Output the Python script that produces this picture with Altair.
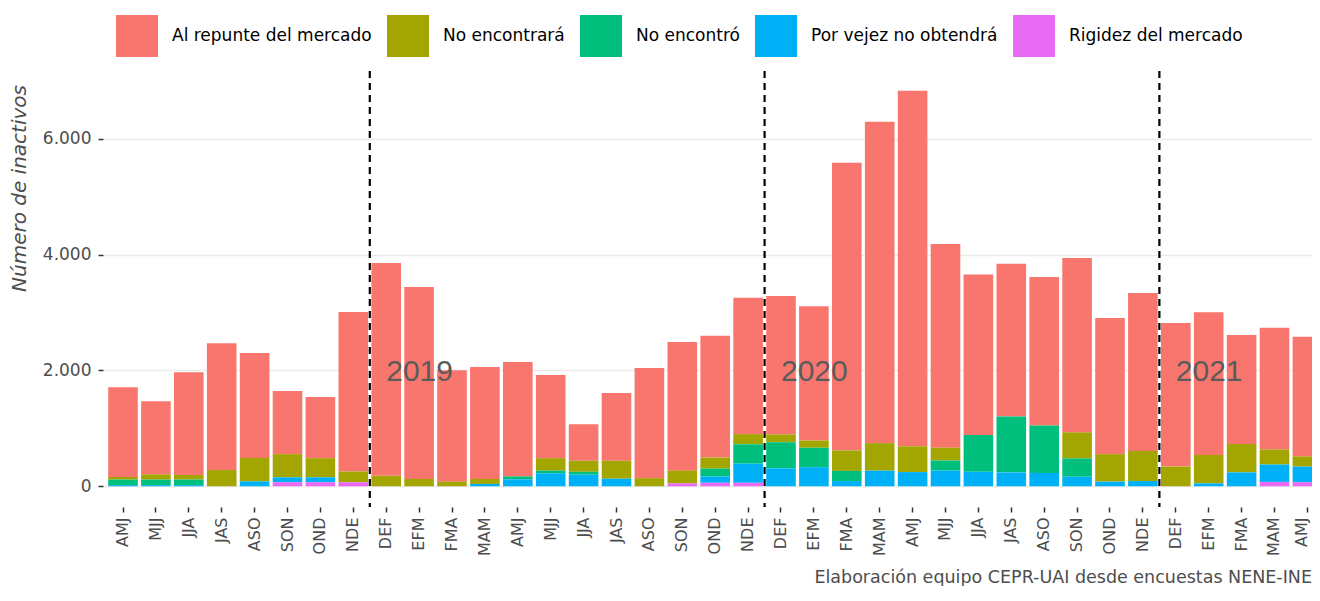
import altair as alt
import pandas as pd

# ---- data ----
periods = ["AMJ", "MJJ", "JJA", "JAS", "ASO", "SON", "OND", "NDE",
           "DEF", "EFM", "FMA", "MAM", "AMJ", "MJJ", "JJA", "JAS", "ASO", "SON", "OND", "NDE",
           "DEF", "EFM", "FMA", "MAM", "AMJ", "MJJ", "JJA", "JAS", "ASO", "SON", "OND", "NDE",
           "DEF", "EFM", "FMA", "MAM", "AMJ"]
years = [2018] * 8 + [2019] * 12 + [2020] * 12 + [2021] * 5

series_names = ["Al repunte del mercado", "No encontrará", "No encontró",
                "Por vejez no obtendrá", "Rigidez del mercado"]
series_colors = ["#F8766D", "#A3A500", "#00BF7D", "#00B0F6", "#E76BF3"]

repunte = [1550, 1265, 1775, 2190, 1810, 1090, 1055, 2755,
           3675, 3315, 1925, 1935, 1975, 1435, 630, 1170, 1900, 2220, 2105, 2355,
           2390, 2320, 4965, 5550, 6140, 3520, 2770, 2635, 2565, 3010, 2350, 2725,
           2480, 2465, 1880, 2100, 2065]
no_encontrara = [45, 90, 80, 280, 405, 400, 330, 185,
                 180, 125, 80, 85, 0, 215, 190, 310, 140, 220, 190, 175,
                 135, 125, 355, 475, 445, 220, 0, 0, 0, 450, 475, 520,
                 340, 490, 490, 260, 175]
no_encontro = [95, 95, 95, 0, 0, 0, 0, 0,
               0, 0, 0, 0, 50, 45, 50, 0, 0, 0, 135, 335,
               450, 335, 175, 0, 0, 175, 635, 965, 820, 315, 0, 0,
               0, 0, 0, 0, 0]
por_vejez = [20, 20, 20, 0, 85, 85, 85, 0,
             0, 0, 0, 40, 120, 225, 200, 130, 0, 0, 110, 330,
             310, 330, 90, 270, 245, 270, 250, 240, 230, 165, 80, 90,
             0, 50, 240, 300, 270]
rigidez = [0, 0, 0, 0, 0, 70, 70, 70,
           0, 0, 0, 0, 0, 0, 0, 0, 0, 50, 60, 60,
           0, 0, 0, 0, 0, 0, 0, 0, 0, 0, 0, 0,
           0, 0, 0, 75, 70]

year_marks = ["2019", "2020", "2021"]
year_label_value = 1970
caption = "Elaboración equipo CEPR-UAI desde encuestas NENE-INE"

# ---- build tables ----
ids = [f"{y}-{p}" for y, p in zip(years, periods)]
all_series = [repunte, no_encontrara, no_encontro, por_vejez, rigidez]
rows = []
for s_idx, (name, vals) in enumerate(zip(series_names, all_series)):
    for i, v in enumerate(vals):
        rows.append({"id": ids[i], "serie": name, "valor": v, "orden": len(series_names) - 1 - s_idx})
df = pd.DataFrame(rows)

vline_df = pd.DataFrame({"id": [f"{y}-DEF" for y in year_marks]})
year_df = pd.DataFrame({"id": [f"{y}-DEF" for y in year_marks], "label": year_marks,
                        "valor": [year_label_value] * len(year_marks)})

W = 1209
H = 436
xscale = alt.Scale(domain=ids, range=[0, 1224.4], paddingInner=0.1, paddingOuter=0.158)
yscale = alt.Scale(domain=[-358, 7170], nice=False, zero=False)

font = "DejaVu Sans"
grey30 = "#4d4d4d"
last_id = ids[-1]

bars = alt.Chart(df).mark_bar(clip=True).encode(
    x=alt.X("id:N", scale=xscale, sort=ids,
            axis=alt.Axis(labelExpr="substring(datum.value, 5)", title=None,
                          labelAngle=270, labelAlign="right", labelBaseline="middle",
                          labelFont=font, labelFontSize=16, labelColor=grey30,
                          labelOffset={"condition": {"test": f"datum.value === '{last_id}'",
                                                     "value": -5},
                                       "value": 0},
                          tickSize=5, tickColor="#333333", tickWidth=1.5,
                          labelPadding=5, domain=False, grid=False)),
    y=alt.Y("valor:Q", stack="zero", scale=yscale,
            axis=alt.Axis(values=[0, 2000, 4000, 6000],
                          labelExpr="replace(format(datum.value, ','), ',', '.')",
                          title="Número de inactivos", titleFont=font,
                          titleFontStyle="italic", titleFontSize=20,
                          titleFontWeight="normal", titleColor=grey30,
                          titleX=-84, titleY=117, titleAngle=270,
                          titleBaseline="middle", titleAlign="center",
                          labelFont=font, labelFontSize=17, labelColor=grey30,
                          tickSize=5, tickColor="#333333", tickWidth=1.5,
                          labelPadding=7, domain=False, grid=True,
                          gridColor="#EBEBEB", gridWidth=1.3)),
    color=alt.Color("serie:N",
                    scale=alt.Scale(domain=series_names, range=series_colors),
                    legend=alt.Legend(orient="none", legendX=13, legendY=-56,
                                      direction="horizontal", columns=5, title=None,
                                      symbolType="square", symbolSize=1764,
                                      symbolStrokeWidth=0, labelFont=font,
                                      labelFontSize=17, labelColor="black",
                                      labelOffset=14, columnPadding=15,
                                      padding=0, labelLimit=0)),
    order=alt.Order("orden:Q", sort="ascending"),
)

vlines = alt.Chart(vline_df).mark_rule(
    strokeDash=[7, 5], strokeWidth=2.2, color="black", xOffset=-1.6
).encode(
    x=alt.X("id:N", scale=xscale, sort=ids, bandPosition=0),
)

year_text = alt.Chart(year_df).mark_text(
    align="left", baseline="middle", font="Liberation Sans", fontSize=30, color="#5b5b5b"
).encode(
    x=alt.X("id:N", scale=xscale, sort=ids),
    y=alt.Y("valor:Q", scale=yscale),
    text="label:N",
)

chart = alt.layer(bars, vlines, year_text).properties(
    width=W, height=H,
    background="white",
    autosize=alt.AutoSizeParams(type="none"),
    padding={"left": 95, "top": 63, "right": 0, "bottom": 79},
    title=alt.TitleParams(text=caption, orient="bottom", anchor="end", frame="group",
                          font=font, fontSize=17.5, fontWeight="normal",
                          color=grey30, offset=13),
).configure_view(stroke=None)

chart.save("out.html", embed_options={"renderer": "svg", "actions": False})
